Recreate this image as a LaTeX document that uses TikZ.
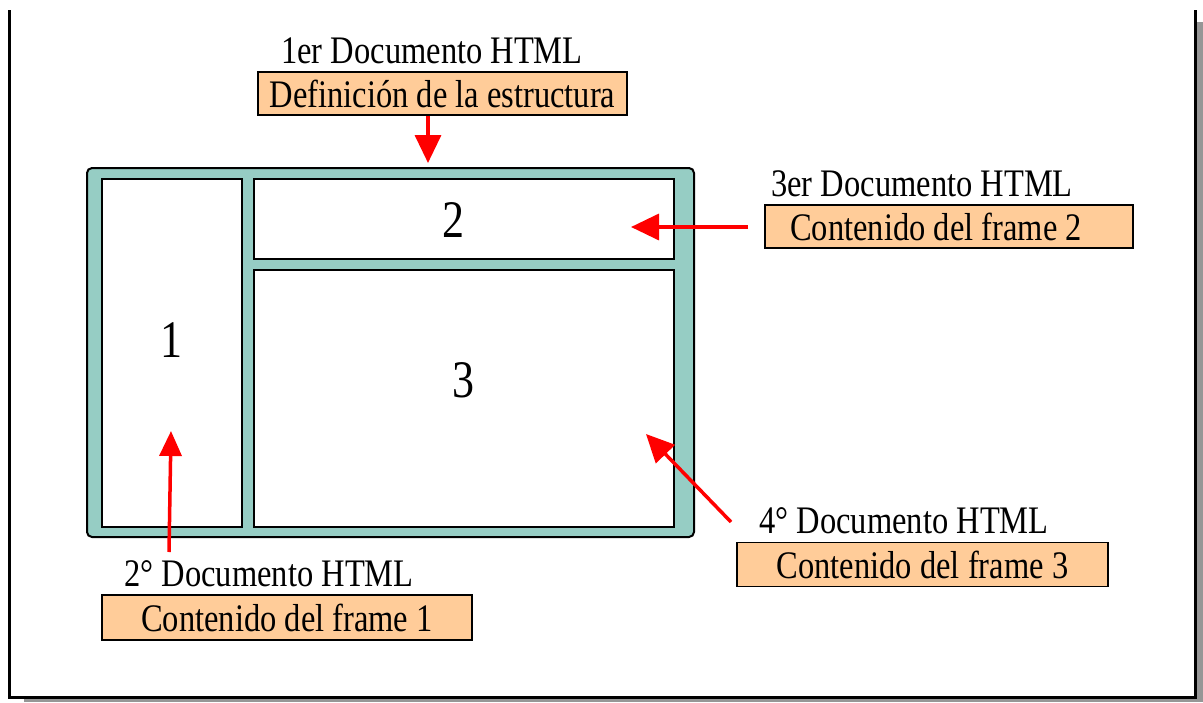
\documentclass[tikz,border=0pt]{standalone}
\usepackage{fontspec}
\setmainfont{Liberation Serif}
\usetikzlibrary{arrows.meta}
\definecolor{framecol}{RGB}{150,205,196}
\definecolor{boxcol}{RGB}{255,204,153}
\definecolor{arrowred}{RGB}{255,0,0}
\definecolor{shadowgray}{RGB}{150,150,150}
\newcommand{\stretchtxt}[1]{\scalebox{1}[1.2]{#1}}
\begin{document}
\begin{tikzpicture}[x=1pt,y=-1pt,
  heading/.style={font=\fontsize{32.5}{36}\selectfont, inner sep=0pt, anchor=base},
  docbox/.style={draw=black, line width=1.8pt, fill=boxcol, inner sep=0pt,
    font=\fontsize{32.5}{36}\selectfont},
  panel/.style={draw=black, line width=2.6pt, fill=white, inner sep=0pt},
  digit/.style={font=\fontsize{44}{48}\selectfont, inner sep=0pt},
  redarrow/.style={draw=arrowred, line width=3.5pt, -{Triangle[length=28pt,width=26pt]}}]
\useasboundingbox (0,0) rectangle (1203,702);
% page frame with shadow
\fill[shadowgray] (1197,22) rectangle (1203,702);
\fill[shadowgray] (24,699) rectangle (1203,702);
\draw[line width=3pt] (9,10) -- (9,697) -- (1195,697) -- (1195,10);
% frameset
\draw[fill=framecol, line width=2pt, rounded corners=5pt] (87,168) rectangle (694,537);
\node[panel, minimum width=140pt, minimum height=348pt] (p1) at (172,353) {};
\node[panel, minimum width=420pt, minimum height=80pt] (p2) at (464,219) {};
\node[panel, minimum width=420pt, minimum height=257pt] (p3) at (464,398.5) {};
\node[digit] (d1) at (171,340) {\stretchtxt{1}};
\node[digit] (d2) at (453,220) {\stretchtxt{2}};
\node[digit] (d3) at (463,380) {\stretchtxt{3}};
% headings
\node[heading] (h1) at (432,63) {\stretchtxt{1er Documento HTML}};
\node[heading] (h3) at (922,196) {\stretchtxt{3er Documento HTML}};
\node[heading] (h4) at (904,533) {\stretchtxt{4° Documento HTML}};
\node[heading] (h2) at (269,586) {\stretchtxt{2° Documento HTML}};
% boxes
\node[docbox, minimum width=369pt, minimum height=43pt] (b1) at (442.5,93.5) {\stretchtxt{Definición de la estructura}};
\node[docbox, minimum width=368pt, minimum height=43pt] (b3) at (949,226.5) {\stretchtxt{Contenido del frame 2\hspace{26pt}}};
\node[docbox, minimum width=371pt, minimum height=44pt] (b4) at (922.5,564.5) {\stretchtxt{Contenido del frame 3}};
\node[docbox, minimum width=370pt, minimum height=45pt] (b2) at (287,617.5) {\stretchtxt{Contenido del frame 1}};
% arrow ends
\coordinate (t1) at (428,163);
\coordinate (t3) at (631,227);
\coordinate (t4) at (646,434);
\coordinate (s4) at (731,522);
\coordinate (t2) at (171,431);
\coordinate (s2) at (169,552);
% arrows
\draw[redarrow] (b1.south -| t1) -- (t1);
\draw[redarrow, shorten <=16pt] (b3.west |- t3) -- (t3);
\draw[redarrow] (s4) -- (t4);
\draw[redarrow, -{Triangle[length=25pt,width=22pt]}] (s2) -- (t2);
\end{tikzpicture}
\end{document}
